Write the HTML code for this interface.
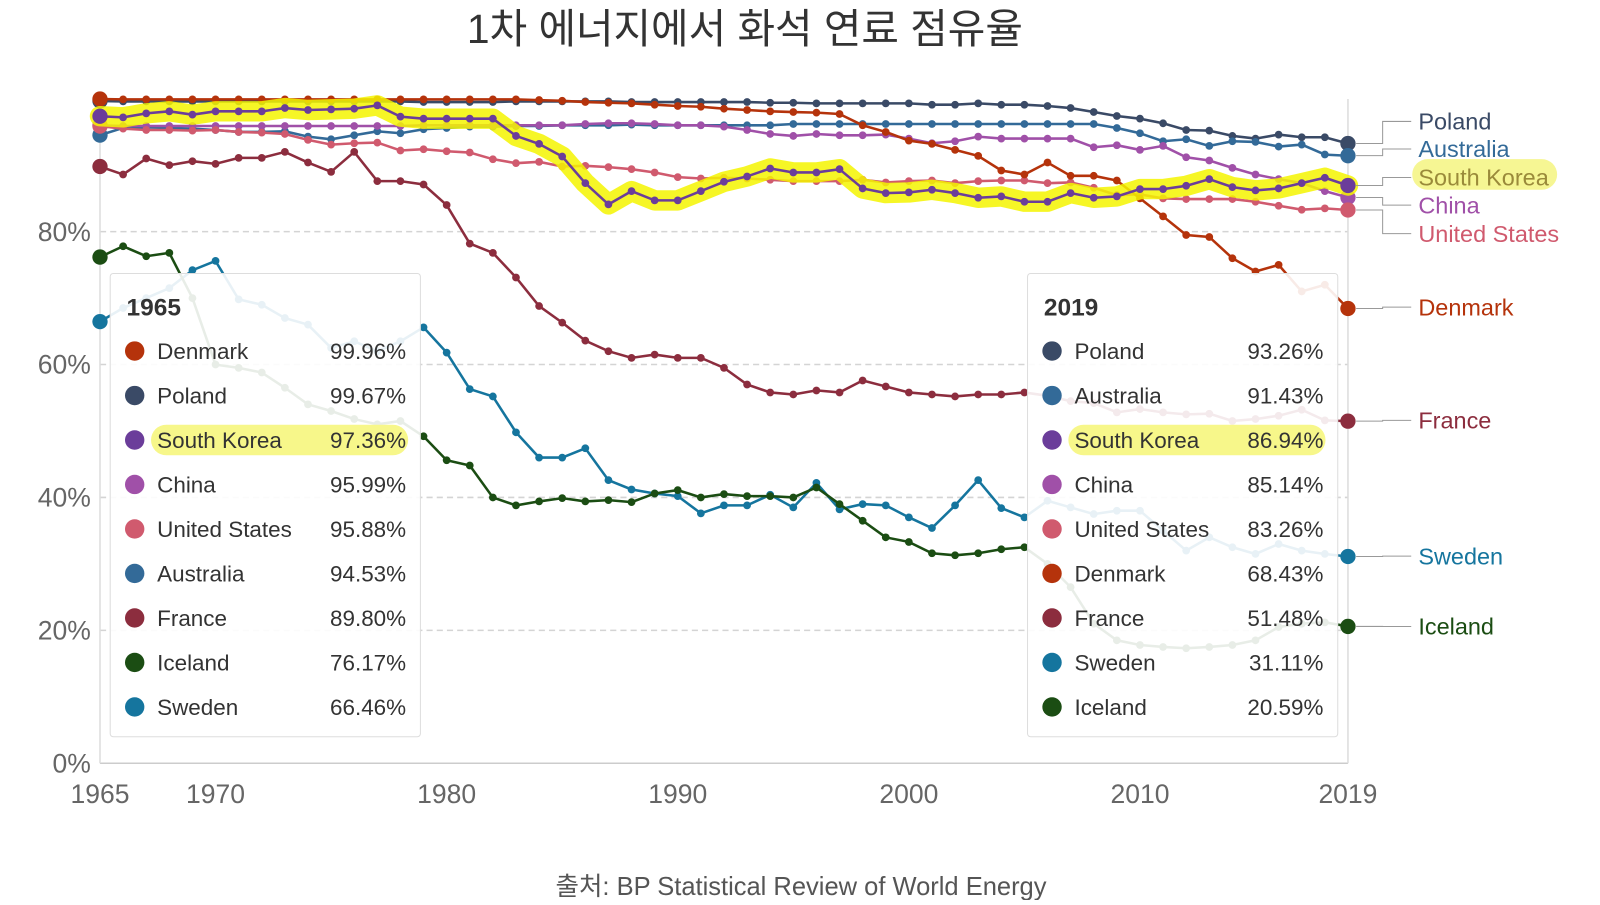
<!DOCTYPE html>
<html><head><meta charset="utf-8">
<style>
body{margin:0;background:#fff;width:1600px;height:900px;overflow:hidden;font-family:"Liberation Sans","Noto Sans CJK KR",sans-serif;}
svg text{font-family:"Liberation Sans","Noto Sans CJK KR",sans-serif;}
</style></head>
<body>
<svg id="chart" width="1600" height="900" xmlns="http://www.w3.org/2000/svg">
<g transform="scale(1.0204)">
<text x="730" y="42" text-anchor="middle" font-size="40" fill="#333">1차 에너지에서 화석 연료 점유율</text>
<g id="grid"></g>
<g id="lines"></g>
<g id="tips"></g>
<g id="labels"></g>
<text x="785" y="877" text-anchor="middle" font-size="25" fill="#555">출처: BP Statistical Review of World Energy</text>
</g>
</svg>
<script>
const years = [];
for (let y = 1965; y <= 2019; y++) years.push(y);
const countries = ["Poland","Australia","China","United States","Denmark","France","Sweden","Iceland","South Korea"];
const colors = {"Poland":"#3a4a66","Australia":"#336a98","China":"#a050a8","United States":"#d05a6e","Denmark":"#b5330b","France":"#8c2d3e","Sweden":"#15759e","Iceland":"#1b4d13","South Korea":"#6b3d9a"};
const denmark = [99.96,99.9,99.9,99.9,99.9,99.9,99.9,99.9,99.9,99.9,99.9,99.9,99.9,99.9,99.9,99.9,99.9,99.9,99.9,99.8,99.7,99.5,99.4,99.3,99.1,98.9,98.8,98.5,98.3,98.1,98.0,97.9,97.7,96.0,95.0,93.7,93.2,92.3,91.4,89.2,88.6,90.4,88.4,88.4,87.7,85.0,82.3,79.5,79.2,76.0,74.0,75.0,71.0,72.0,68.43];
const poland = [99.67,99.6,99.6,99.6,99.6,99.6,99.6,99.6,99.6,99.6,99.6,99.6,99.6,99.6,99.5,99.5,99.5,99.5,99.6,99.6,99.6,99.6,99.6,99.5,99.5,99.5,99.5,99.5,99.5,99.4,99.4,99.3,99.3,99.3,99.3,99.3,99.1,99.1,99.3,99.1,99.1,98.9,98.6,98.0,97.4,97.0,96.3,95.3,95.2,94.4,94.0,94.6,94.2,94.2,93.26];
const australia = [94.53,95.6,95.7,95.6,95.5,95.3,95.0,95.0,95.1,94.3,93.9,94.5,95.1,94.8,95.4,95.6,95.8,95.8,95.9,95.9,96.0,96.0,96.0,96.1,96.0,96.0,96.0,96.0,96.0,96.0,96.2,96.2,96.2,96.2,96.2,96.2,96.2,96.2,96.2,96.2,96.2,96.2,96.2,96.2,95.6,94.8,93.6,93.9,92.9,93.6,93.5,92.8,93.1,91.6,91.43];
const china = [95.99,95.9,95.9,95.9,95.9,95.9,95.9,95.9,95.9,95.9,95.9,95.9,95.9,95.9,96.0,96.0,96.0,96.0,96.0,96.0,96.0,96.2,96.3,96.3,96.2,96.0,96.0,95.8,95.3,94.7,94.4,94.7,94.5,94.5,94.6,94.0,93.3,93.6,94.3,94.0,94.0,94.0,94.0,92.7,93.0,92.3,92.9,91.2,90.7,89.6,88.6,87.9,87.3,86.1,85.14];
const unitedStates = [95.88,95.5,95.3,95.3,95.2,95.3,95.0,94.9,94.7,93.8,93.1,93.3,93.4,92.2,92.4,92.1,91.9,90.9,90.3,90.5,89.8,89.9,89.7,89.4,88.9,88.2,88.0,88.1,88.0,87.8,87.6,87.6,87.6,87.8,87.4,87.6,87.7,87.3,87.6,87.7,87.7,87.3,87.4,86.6,85.5,85.6,85.0,84.9,84.9,84.9,84.5,83.9,83.3,83.5,83.26];
const southKorea = [97.36,97.2,97.8,98.1,97.6,98.1,98.1,98.1,98.6,98.3,98.4,98.5,99.0,97.3,97.0,97.0,97.0,97.0,94.4,93.2,91.3,87.3,84.1,86.1,84.7,84.7,86.1,87.5,88.3,89.5,88.9,88.9,89.4,86.5,85.8,85.9,86.3,85.8,85.1,85.3,84.5,84.5,85.8,85.1,85.3,86.4,86.4,86.9,87.9,86.7,86.2,86.5,87.3,88.1,86.94];
const france = [89.80,88.6,91.0,90.0,90.6,90.2,91.1,91.1,92.0,90.4,89.0,92.0,87.6,87.6,87.1,84.0,78.2,76.8,73.1,68.8,66.3,63.6,62.0,61.0,61.5,61.0,61.0,59.5,57.0,55.8,55.5,56.1,55.8,57.6,56.7,55.8,55.5,55.2,55.5,55.5,55.8,55.3,54.5,54.2,52.8,53.3,52.8,52.5,52.6,51.5,51.8,52.3,53.2,51.6,51.48];
const sweden = [66.46,68.5,70.0,71.5,74.2,75.6,69.8,69.0,67.0,66.0,62.5,63.5,62.0,63.5,65.6,61.8,56.3,55.2,49.8,46.0,46.0,47.4,42.6,41.2,40.6,40.2,37.6,38.8,38.8,40.4,38.5,42.2,38.2,39.0,38.8,37.0,35.4,38.8,42.6,38.4,37.0,39.5,38.5,37.5,38.0,38.0,35.0,32.0,34.0,32.5,31.5,33.0,32.0,31.5,31.11];
const iceland = [76.17,77.8,76.3,76.8,70.0,60.0,59.5,58.8,56.5,54.0,53.0,51.8,51.0,51.5,49.2,45.6,44.8,40.0,38.8,39.4,39.9,39.4,39.6,39.3,40.6,41.1,40.0,40.5,40.2,40.2,40.0,41.5,39.0,36.5,34.0,33.3,31.6,31.3,31.6,32.2,32.5,30.0,26.5,21.0,18.5,17.8,17.5,17.3,17.5,17.8,18.5,20.5,21.0,21.2,20.59];
const yTicks = [0,20,40,60,80];
const xTicks = [1965,1970,1980,1990,2000,2010,2019];
const series = {"Poland":poland,"Australia":australia,"China":china,"United States":unitedStates,"Denmark":denmark,"France":france,"Sweden":sweden,"Iceland":iceland,"South Korea":southKorea};
const order1965 = ["Denmark","Poland","South Korea","China","United States","Australia","France","Iceland","Sweden"];
const order2019 = ["Poland","Australia","South Korea","China","United States","Denmark","France","Sweden","Iceland"];
const labelY = {"Poland":119,"Australia":146,"South Korea":174,"China":201,"United States":229,"Denmark":301,"France":412,"Sweden":545,"Iceland":614};

const X0=98,X1=1321,Y0=748,Y100=96.75;
const xS = y => X0 + (y-1965)*(X1-X0)/54;
const yS = v => Y0 - v*(Y0-Y100)/100;
const NS="http://www.w3.org/2000/svg";
function mk(tag, attrs, parent){const e=document.createElementNS(NS,tag);for(const k in attrs)e.setAttribute(k,attrs[k]);parent.appendChild(e);return e;}

const grid=document.getElementById('grid');
yTicks.forEach(t=>{
  if(t>0){const l=mk('line',{x1:X0,x2:X1,y1:yS(t),y2:yS(t),stroke:'#d4d4d4','stroke-width':1.5,'stroke-dasharray':'6,4'},grid);
  
  }
  const tx=mk('text',{x:89,y:yS(t)+9,'text-anchor':'end','font-size':26,fill:'#666'},grid);
  tx.textContent=t+'%';
  
  
});
const ax=mk('line',{x1:X0,x2:X1,y1:Y0,y2:Y0,stroke:'#ccc','stroke-width':1.5},grid);


[X0,X1].forEach((x,i)=>{const v=mk('line',{x1:x,x2:x,y1:97,y2:Y0,stroke:'#ddd','stroke-width':1.5},grid);

});
xTicks.forEach(t=>{
  const tx=mk('text',{x:xS(t),y:787,'text-anchor':'middle','font-size':26,fill:'#666'},grid);
  tx.textContent=t;
  
  
});

const lines=document.getElementById('lines');
countries.forEach(c=>{
  const g=mk('g',{},lines);
  
  
  const d=series[c].map((v,i)=>(i?'L':'M')+xS(years[i]).toFixed(1)+','+yS(v).toFixed(1)).join('');
  if(c==='South Korea'){
    const h=mk('path',{d:d,fill:'none',stroke:'#f5f500','stroke-width':20,'stroke-linejoin':'round','stroke-linecap':'round',opacity:0.85},g);
    
    
  }
  const p=mk('path',{d:d,fill:'none',stroke:colors[c],'stroke-width':2.5},g);
  
  
  series[c].forEach((v,i)=>{
    const end=(i===0||i===series[c].length-1);
    const dot=mk('circle',{cx:xS(years[i]),cy:yS(v),r:end?7.5:3.8,fill:colors[c]},g);
    
    
  });
});

const labels=document.getElementById('labels');
countries.forEach(c=>{
  const v=series[c][54], ey=yS(v), ly=labelY[c];
  const pl=mk('polyline',{points:`${X1+8},${ey} ${1355},${ey} ${1355},${ly} ${1383},${ly}`,fill:'none',stroke:'#999','stroke-width':1},labels);
  
  
  if(c==='South Korea'){
    const r=mk('rect',{x:1384,y:ly-18,width:142,height:30,rx:15,fill:'#f5f580',opacity:0.85},labels);
    
    
  }
  const t=mk('text',{x:1390,y:ly+8,'font-size':23,fill:c==='South Korea'?'#9a8a3a':colors[c]},labels);
  t.textContent=c;
  
  
});

const tips=document.getElementById('tips');
function tooltip(x, idx, order){
  const g=mk('g',{},tips);
  
  
  mk('rect',{x:x,y:268,width:304,height:454,rx:3,fill:'rgba(255,255,255,0.9)',stroke:'#ddd','stroke-width':1},g);
  const h=mk('text',{x:x+16,y:309,'font-size':24,'font-weight':'bold',fill:'#333'},g);
  h.textContent=years[idx];
  
  
  order.forEach((c,i)=>{
    const y=344+i*43.6;
    if(c==='South Korea'){const r=mk('rect',{x:x+40,y:y-15,width:252,height:30,rx:15,fill:'#f7f78a'},g);
      
      }
    mk('circle',{cx:x+24,cy:y,r:9.5,fill:colors[c]},g);
    const n=mk('text',{x:x+46,y:y+8,'font-size':22,fill:'#333'},g);
    n.textContent=c;
    
    
    const v=mk('text',{x:x+290,y:y+8,'text-anchor':'end','font-size':22,fill:'#333'},g);
    v.textContent=series[c][idx].toFixed(2)+'%';
    
    
  });
}
tooltip(108,0,order1965);
tooltip(1007,54,order2019);
</script>
</body></html>
